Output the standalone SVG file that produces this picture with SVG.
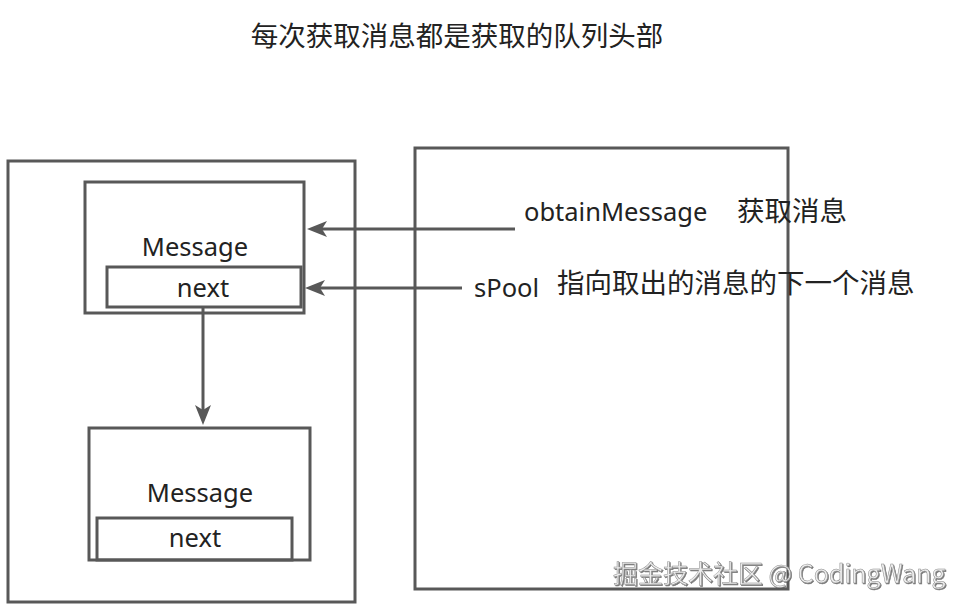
<svg xmlns="http://www.w3.org/2000/svg" width="966" height="609" viewBox="0 0 966 609">
<style>
.box{fill:none;stroke:#585858;stroke-width:3}
.t{font-family:"Noto Sans","Noto Sans CJK SC",sans-serif;font-size:25.5px;fill:#222}
.c{font-family:"Noto Sans CJK SC",sans-serif;font-size:27.5px;fill:#222}
.edge{stroke:#585858;stroke-width:3;fill:none}
.wm{font-family:"Noto Sans CJK SC",sans-serif;font-size:25px;fill:#ededed;stroke:#8a8a8a;stroke-width:0.5;filter:url(#sh)}
</style>
<defs>
<marker id="ah" markerUnits="userSpaceOnUse" markerWidth="20" markerHeight="16" refX="14" refY="8" orient="auto">
<path d="M0,0 L20,8 L0,16 L5,8 z" fill="#585858"/>
</marker>
<filter id="sh" x="-5%" y="-20%" width="110%" height="140%">
<feDropShadow dx="1" dy="1" stdDeviation="0.5" flood-color="#555" flood-opacity="0.8"/>
</filter>
</defs>
<rect width="966" height="609" fill="#ffffff"/>
<text class="c" x="457" y="46" text-anchor="middle">每次获取消息都是获取的队列头部</text>
<g id="pool">
<rect class="box" x="8" y="161" width="347" height="441"/>
</g>
<g id="queue">
<rect class="box" x="415" y="148" width="373" height="441"/>
</g>
<g id="msg1">
<rect class="box" x="85" y="182" width="219" height="131"/>
<text class="t" x="195" y="256" text-anchor="middle">Message</text>
</g>
<g id="next1">
<rect class="box" x="107" y="267" width="194" height="40"/>
<text class="t" x="203" y="297" text-anchor="middle">next</text>
</g>
<g id="msg2">
<rect class="box" x="89" y="428" width="221" height="132"/>
<text class="t" x="200" y="502" text-anchor="middle">Message</text>
</g>
<g id="next2">
<rect class="box" x="97" y="518" width="195" height="42"/>
<text class="t" x="195" y="547" text-anchor="middle">next</text>
</g>
<g id="labels">
<text class="t" x="524" y="221">obtainMessage</text>
<text class="c" x="737" y="221">获取消息</text>
<text class="t" x="474" y="297">sPool</text>
<text class="c" x="557" y="293">指向取出的消息的下一个消息</text>
</g>
<g id="connectors">
<line class="edge" x1="515" y1="229" x2="313" y2="229" marker-end="url(#ah)"/>
<line class="edge" x1="462" y1="288" x2="311" y2="288" marker-end="url(#ah)"/>
<line class="edge" x1="203" y1="308" x2="203" y2="419" marker-end="url(#ah)"/>
</g>
<text class="wm" x="613" y="583">掘金技术社区 @ CodingWang</text>
</svg>
